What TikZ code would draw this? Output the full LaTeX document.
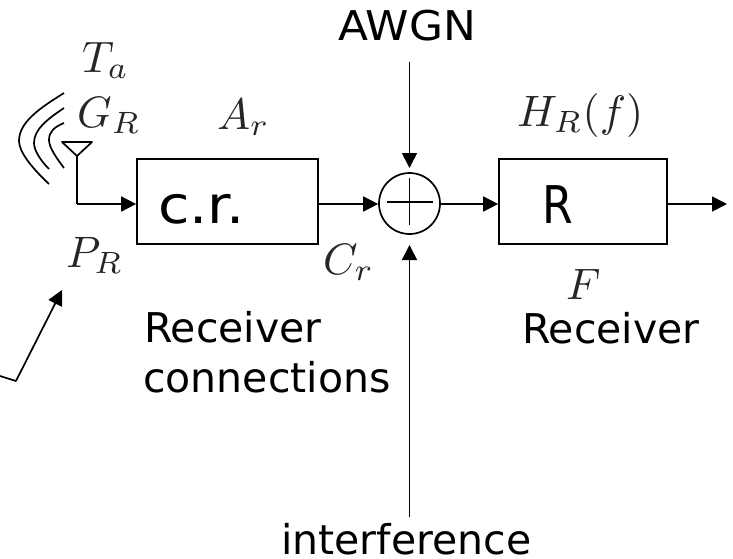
\documentclass[tikz,border=0pt]{standalone}
\usepackage[no-math]{fontspec}
\usepackage{graphicx}
\setmainfont{DejaVu Sans}
\usetikzlibrary{arrows.meta}
\newcommand\bigmath[1]{\scalebox{4.4}{\fontsize{10}{12}\selectfont$#1$}}
\tikzset{
 wire/.style={line width=1.7pt,line cap=butt},
 arr/.style={wire,-{Triangle[length=15pt,width=15pt]}},
 blockbox/.style={draw,line width=1.7pt,inner sep=0pt},
 sumcirc/.style={draw,circle,line width=1.7pt,minimum size=61pt,inner sep=0pt},
 lbl/.style={inner sep=0pt,anchor=base west,font=\fontsize{41}{46}\selectfont},
 big/.style={inner sep=0pt,anchor=base west,font=\fontsize{52}{58}\selectfont},
 mth/.style={inner sep=0pt,anchor=base west,text=black!85},
}
\begin{document}
\begin{tikzpicture}[x=1pt,y=-1pt]
\useasboundingbox (0,0) rectangle (733,558);
\node[blockbox,minimum width=181pt,minimum height=85pt] (cr) at (227.5,201.5) {};
\node[blockbox,minimum width=168pt,minimum height=85pt] (rx) at (583,201.5) {};
\node[sumcirc] (sum) at (409.5,203.5) {};
\node[big] (crt) at (158,223) {\scalebox{1.1}[1]{c.r.}};
\node[big] (rt) at (542,223) {\scalebox{.85}[1]{R}};
\coordinate (ta) at (77,156);
\coordinate (tl) at (62,142);
\coordinate (tr) at (92,142);
\coordinate (corner) at (77,204);
\coordinate (rend) at (727,204);
\coordinate (awtop) at (409.5,62);
\coordinate (awtip) at (409.5,168);
\coordinate (inbot) at (409.5,517);
\coordinate (intip) at (409.5,245);
\coordinate (p0) at (0,376);
\coordinate (p1) at (16,381);
\coordinate (p2) at (62,290);
\draw[wire,line join=round] (tl) -- (tr) -- (ta) -- cycle;
\draw[wire] (ta) -- (corner);
\draw[arr] (corner) -- (corner -| cr.west);
\draw[arr] (cr.east |- corner) -- (corner -| sum.west);
\draw[arr] (corner -| sum.east) -- (corner -| rx.west);
\draw[arr] (rx.east |- corner) -- (rend);
\draw[arr] (awtop) -- (awtip);
\draw[arr] (inbot) -- (intip);
\draw[wire] (387,202) -- (433,202);
\draw[wire] (409.5,178) -- (409.5,225);
\draw[wire] (64,93) .. controls (40,108) and (19,122) .. (19,141) .. controls (19,152) and (32,168) .. (49,184);
\draw[wire] (64,108) .. controls (46,120) and (34,130) .. (34,143) .. controls (34,150) and (40,160) .. (49,169);
\draw[wire] (64,123) .. controls (54,127) and (49,132) .. (49,140) .. controls (49,148) and (58,160) .. (64,168);
\draw[arr] (p1) -- (p2);
\draw[wire,line join=round] (p0) -- (p1);
\node[lbl] (awgn) at (338,40) {\scalebox{1.07}[1]{AWGN}};
\node[lbl] (intf) at (281,554) {interference};
\node[lbl] (rc1) at (144,342) {Receiver};
\node[lbl] (rc2) at (143,392) {connections};
\node[lbl] (rc3) at (522,343) {Receiver};
\node[mth] (Ta) at (82,72) {\bigmath{T_a}};
\node[mth] (GR) at (77,127) {\bigmath{G_R}};
\node[mth] (Ar) at (217,129) {\bigmath{A_r}};
\node[mth] (HR) at (517,126) {\bigmath{H_R(f)}};
\node[mth] (PR) at (66,267) {\bigmath{P_R}};
\node[mth] (Cr) at (323,274) {\bigmath{C_r}};
\node[mth] (F) at (566,299) {\bigmath{F}};
\end{tikzpicture}
\end{document}
